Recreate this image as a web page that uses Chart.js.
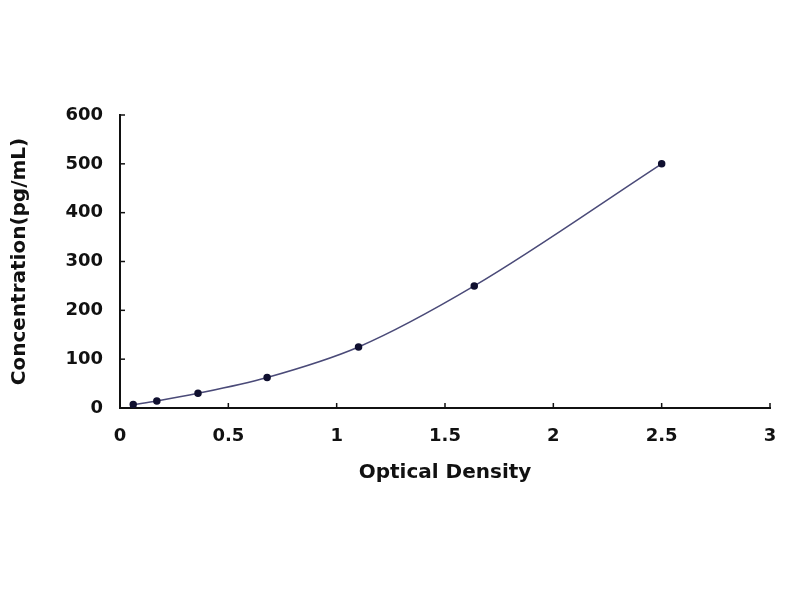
<!DOCTYPE html>
<html>
<head>
<meta charset="utf-8">
<script src="https://cdn.jsdelivr.net/npm/chart.js@4/dist/chart.umd.min.js"></script>
<style>
  html, body { margin: 0; padding: 0; background: #fff; }
  #chart { display: block; }
</style>
</head>
<body>
<canvas id="chart" width="800" height="600"></canvas>
<script>
// standard curve readings (OD vs concentration)
const odValues   = [0.061, 0.170, 0.360, 0.679, 1.101, 1.635, 2.500];
const concValues = [7.0, 14.5, 30, 62.5, 125, 250, 500];

const xTitle = 'Optical Density';
const yTitle = 'Concentration(pg/mL)';

const INK = '#111111';
const tickFont  = { family: 'DejaVu Sans', size: 18, weight: 'bold' };
const titleFont = { family: 'DejaVu Sans', size: 20, weight: 'bold' };

// small tick marks pointing into the plot, like the original
const innerTicks = {
  id: 'innerTicks',
  afterDraw(chart) {
    const { ctx, chartArea, scales } = chart;
    ctx.save();
    ctx.strokeStyle = INK;
    ctx.lineWidth = 1.5;
    scales.x.ticks.forEach(t => {
      const px = scales.x.getPixelForValue(t.value);
      ctx.beginPath();
      ctx.moveTo(px, chartArea.bottom);
      ctx.lineTo(px, chartArea.bottom - 5);
      ctx.stroke();
    });
    scales.y.ticks.forEach(t => {
      const py = scales.y.getPixelForValue(t.value);
      ctx.beginPath();
      ctx.moveTo(chartArea.left, py);
      ctx.lineTo(chartArea.left + 5, py);
      ctx.stroke();
    });
    ctx.restore();
  }
};

const points = odValues.map((x, i) => ({ x, y: concValues[i] }));

new Chart(document.getElementById('chart'), {
  type: 'scatter',
  data: {
    datasets: [{
      data: points,
      showLine: true,
      cubicInterpolationMode: 'monotone',
      borderColor: '#4a4a78',
      borderWidth: 1.5,
      pointRadius: 3,
      pointBackgroundColor: '#101030',
      pointBorderColor: '#101030',
    }]
  },
  options: {
    responsive: false,
    devicePixelRatio: 1,
    animation: false,
    layout: { padding: { top: 115, right: 30, bottom: 0, left: 0 } },
    plugins: {
      legend: { display: false },
      tooltip: { enabled: false },
    },
    scales: {
      x: {
        type: 'linear',
        min: 0, max: 3,
        afterFit: s => { s.height = 192; },
        grid: { display: false, drawTicks: false },
        border: { display: true, color: INK, width: 2 },
        ticks: { stepSize: 0.5, padding: 18, color: INK, font: tickFont, maxRotation: 0,
                 callback: v => String(v) },
        title: { display: true, text: xTitle, color: INK, font: titleFont, padding: { top: 0, bottom: 115 } },
      },
      y: {
        min: 0, max: 600,
        afterFit: s => { s.width = 120; },
        grid: { display: false, drawTicks: false },
        border: { display: true, color: INK, width: 2 },
        ticks: { stepSize: 100, padding: 17, color: INK, font: tickFont },
        title: { display: true, text: yTitle, color: INK, font: titleFont, padding: { top: 8, bottom: 0 } },
      }
    }
  },
  plugins: [innerTicks]
});
</script>
</body>
</html>
